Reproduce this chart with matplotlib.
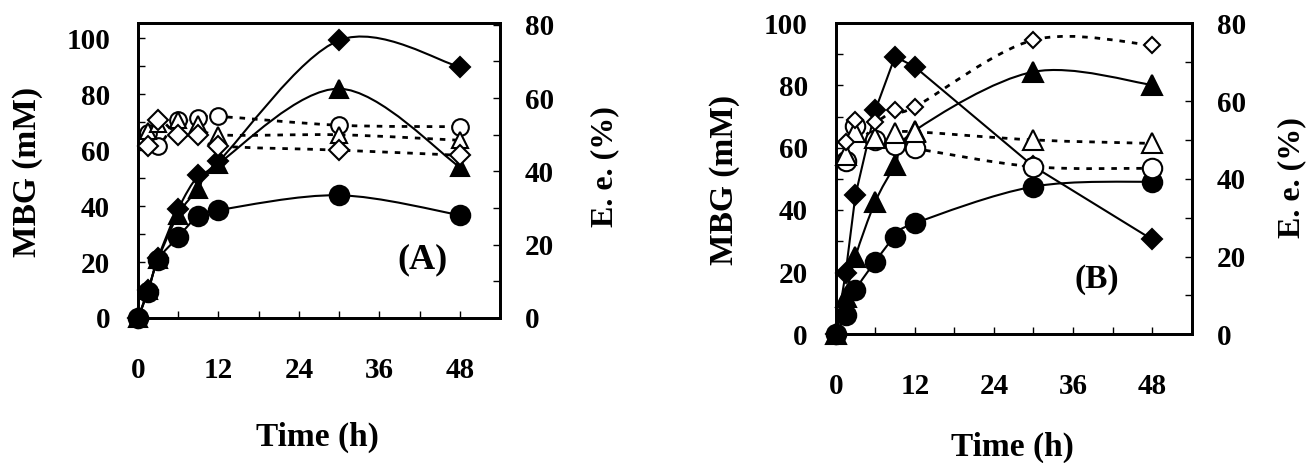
import numpy as np
import matplotlib
matplotlib.use("Agg")
import matplotlib.pyplot as plt
from matplotlib.path import Path
from matplotlib.patches import PathPatch
from matplotlib.ticker import MultipleLocator

plt.rcParams["font.family"] = "Liberation Serif"
plt.rcParams["font.weight"] = "bold"

# sampling times (h)
time_mbg = [0, 1.5, 3, 6, 9, 12, 30, 48]
time_ee = [1.5, 3, 6, 9, 12, 30, 48]

# panel A: MBG (mM), filled markers
mbg_a_diamond = [0, 10, 21.5, 39, 51, 56, 99.3, 89.8]
mbg_a_triangle = [0, 10, 21, 37, 46.3, 55.2, 82, 54]
mbg_a_circle = [0, 9.4, 20.7, 29, 36.5, 38.6, 43.9, 36.8]
# panel A: e.e. (%), open markers
ee_a_circle = [50.4, 47, 54, 54.5, 55, 52.6, 52.2]
ee_a_triangle = [51, 53, 54, 53, 50, 50, 48.5]
ee_a_diamond = [47, 54, 50, 50, 47, 45.8, 44.4]

# panel B
mbg_b_diamond = [0, 19.6, 44.8, 72, 89.3, 86, 54, 30.5]
mbg_b_triangle = [0, 12, 25, 42.6, 54.4, 65.5, 84.4, 80.2]
mbg_b_circle = [0, 6.2, 14.2, 23.4, 31.4, 35.7, 47.5, 49.1]
ee_b_circle = [44.6, 53.5, 50, 48.7, 47.8, 43.1, 42.7]
ee_b_triangle = [46, 52, 50.4, 51.7, 52.1, 50, 49.1]
ee_b_diamond = [49.5, 55, 54.7, 57.7, 58.5, 75.7, 74.4]

W, H = 1310, 463


def smooth_path(x, y):
    # excel-style smoothed line (cubic bezier through every point)
    x = np.asarray(x, float)
    y = np.asarray(y, float)
    n = len(x)
    verts = [(x[0], y[0])]
    codes = [Path.MOVETO]
    for i in range(n - 1):
        i0 = max(i - 1, 0)
        i3 = min(i + 2, n - 1)
        c1 = (x[i] + (x[i + 1] - x[i0]) / 6, y[i] + (y[i + 1] - y[i0]) / 6)
        c2 = (x[i + 1] - (x[i3] - x[i]) / 6, y[i + 1] - (y[i3] - y[i]) / 6)
        verts += [c1, c2, (x[i + 1], y[i + 1])]
        codes += [Path.CURVE4] * 3
    return Path(verts, codes)


def draw_series(ax, x, y, marker, ms, filled, smooth=True, dotted=False):
    ls = (0, (2, 2.5)) if dotted else "-"
    lw = 2 if dotted else 1.5
    if smooth:
        ax.add_patch(PathPatch(smooth_path(x, y), fill=False, lw=lw,
                               linestyle=ls, edgecolor="black", zorder=2,
                               clip_on=False))
    else:
        ax.plot(x, y, color="black", lw=lw, linestyle=ls, zorder=2,
                clip_on=False)
    ax.plot(x, y, linestyle="none", marker=marker, ms=ms,
            markerfacecolor="black" if filled else "white",
            markeredgecolor="black", markeredgewidth=1.5, zorder=3,
            clip_on=False)


def style_axes(ax, ax2, ymax_left, tick_size):
    ax.set_xlim(0, 54)
    ax.set_ylim(0, ymax_left)
    ax2.set_ylim(0, 80.5 if ymax_left > 100 else 80)
    ax.xaxis.set_major_locator(MultipleLocator(12))
    ax.xaxis.set_minor_locator(MultipleLocator(6))
    ax.yaxis.set_major_locator(MultipleLocator(20))
    ax.yaxis.set_minor_locator(MultipleLocator(10))
    ax2.yaxis.set_major_locator(MultipleLocator(20))
    ax2.yaxis.set_minor_locator(MultipleLocator(10))
    ax.tick_params(which="both", direction="in", length=5, width=1,
                   labelsize=tick_size)
    ax.tick_params(axis="x", pad=28)
    ax.tick_params(axis="y", pad=20)
    ax2.tick_params(which="both", direction="in", length=5, width=1,
                    labelsize=tick_size, pad=18)
    for a in (ax, ax2):
        for s in a.spines.values():
            s.set_linewidth(2)


def fpos(x, y):
    return x / W, 1 - y / H


fig = plt.figure(figsize=(W / 100, H / 100), dpi=100)

# ---- panel A ----
axA = fig.add_axes([138 / W, 1 - 318 / H, 362 / W, 295 / H])
axA2 = axA.twinx()
draw_series(axA, time_mbg, mbg_a_circle, "o", 14, True)
draw_series(axA, time_mbg, mbg_a_triangle, "^", 13.5, True)
draw_series(axA, time_mbg, mbg_a_diamond, "D", 10, True)
draw_series(axA2, time_ee, ee_a_circle, "o", 12, False, dotted=True)
draw_series(axA2, time_ee, ee_a_triangle, "^", 12, False, dotted=True)
draw_series(axA2, time_ee, ee_a_diamond, "D", 10.5, False, dotted=True)
style_axes(axA, axA2, 105.5, 21)
axA.text(0.785, 0.197, "(A)", transform=axA.transAxes, fontsize=26,
         ha="center", va="center")

# ---- panel B ----
axB = fig.add_axes([835.7 / W, 1 - 334.3 / H, 356 / W, 311 / H])
axB2 = axB.twinx()
draw_series(axB, time_mbg, mbg_b_circle, "o", 14, True)
draw_series(axB, time_mbg, mbg_b_triangle, "^", 14, True)
draw_series(axB, time_mbg, mbg_b_diamond, "D", 10, True, smooth=False)
draw_series(axB2, time_ee, ee_b_circle, "o", 14, False, dotted=True)
draw_series(axB2, time_ee, ee_b_triangle, "^", 14, False, dotted=True)
draw_series(axB2, time_ee, ee_b_diamond, "D", 8.5, False, dotted=True)
style_axes(axB, axB2, 100, 21)
axB.text(0.733, 0.175, "(B)", transform=axB.transAxes, fontsize=24,
         ha="center", va="center")

# axis labels
fig.text(*fpos(28, 172), "MBG (mM)", rotation=90, fontsize=24,
         ha="center", va="center")
fig.text(*fpos(605, 167), "E. e. (%)", rotation=90, fontsize=23,
         ha="center", va="center")
fig.text(*fpos(317, 437), "Time (h)", fontsize=24, ha="center", va="center")
fig.text(*fpos(725, 180), "MBG (mM)", rotation=90, fontsize=24,
         ha="center", va="center")
fig.text(*fpos(1292, 178), "E. e. (%)", rotation=90, fontsize=23,
         ha="center", va="center")
fig.text(*fpos(1012, 447), "Time (h)", fontsize=24, ha="center", va="center")

fig.savefig("out.png", dpi=100)
